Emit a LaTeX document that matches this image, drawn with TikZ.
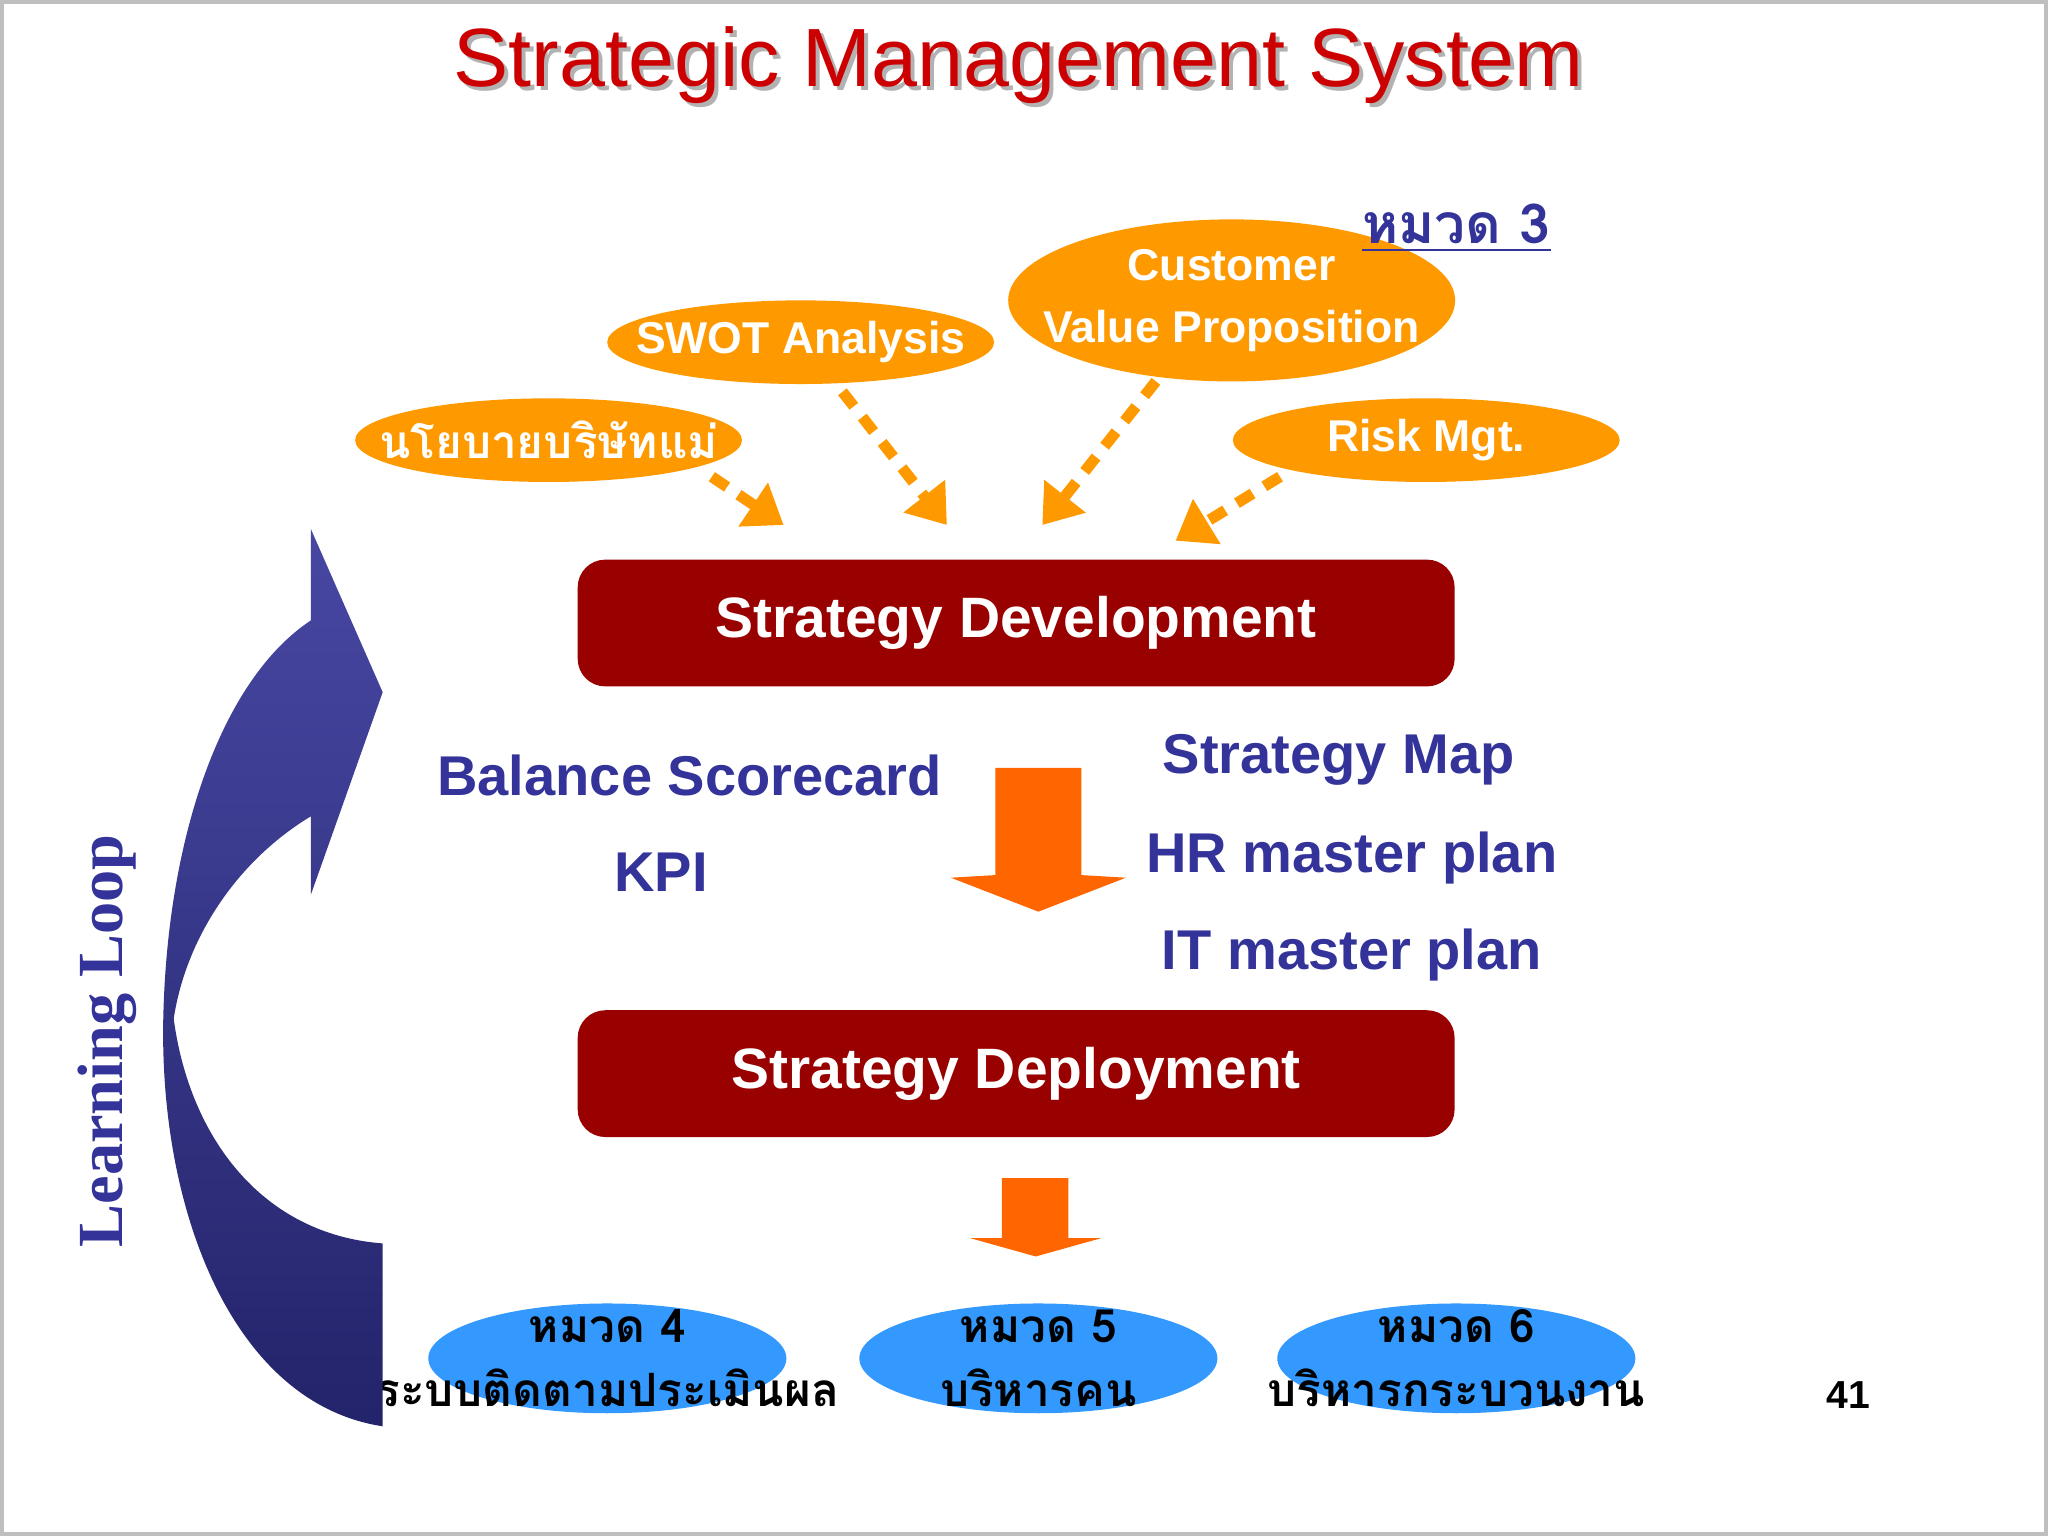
\documentclass[tikz,border=0pt]{standalone}
\usepackage{fontspec}
\setmainfont{Liberation Sans}
\newfontfamily\thaifont[Script=Thai]{Loma}
\newfontfamily\serifb{Liberation Serif}
\usetikzlibrary{arrows.meta,shadings,shapes.geometric}
\definecolor{ttlred}{HTML}{CC0000}
\definecolor{orng}{HTML}{FF9900}
\definecolor{darr}{HTML}{FF6600}
\definecolor{boxred}{HTML}{990000}
\definecolor{navy}{HTML}{333399}
\definecolor{lblue}{HTML}{3399FF}
\tikzset{
 oell/.style={ellipse, fill=orng, inner sep=0pt},
 otxt/.style={text=white, font=\bfseries\fontsize{9.7}{11}\selectfont, align=center},
 dotarr/.style={orng, line width=2.4pt, dash pattern=on 4pt off 3pt, -{Triangle[length=8pt,width=11pt]}},
 redbox/.style={fill=boxred, rounded corners=6pt, minimum width=6.71cm, minimum height=0.97cm, text=white, font=\bfseries\fontsize{12.4}{14}\selectfont},
 bluetxt/.style={text=navy, font=\bfseries\fontsize{12.2}{14}\selectfont},
 bell/.style={ellipse, fill=lblue, minimum width=2.74cm, minimum height=0.84cm, inner sep=0pt},
 btxt/.style={font=\thaifont\bfseries\fontsize{10}{12}\selectfont, text=black, align=center},
}
\begin{document}
\begin{tikzpicture}[x=0.01cm,y=-0.01cm]
\useasboundingbox (0,0) rectangle (1568,1176);
\fill[white] (0,0) rectangle (1568,1176);
\draw[gray!50, line width=1pt] (1,1) rectangle (1567,1175);
% title
\node[text=gray!60] at (783,53) {\fontsize{18}{21}\selectfont Strategic Management System};
\node (title) [text=ttlred] at (780,50) {\fontsize{18}{21}\selectfont Strategic Management System};
% ellipses
\node (pol) [oell, minimum width=2.96cm, minimum height=0.64cm] at (420,337) {};
\node[otxt, font=\thaifont\bfseries\fontsize{10}{12}\selectfont] at (420,337) {นโยบายบริษัทแม่};
\node (swot) [oell, minimum width=2.96cm, minimum height=0.64cm] at (613,262) {};
\node[otxt] at (613,262) {SWOT Analysis};
\node (cvp) [oell, minimum width=3.42cm, minimum height=1.24cm] at (943,230) {};
\node[otxt, font=\bfseries\fontsize{9.7}{13.5}\selectfont] at (943,230) {Customer\\Value Proposition};
\node (risk) [oell, minimum width=2.96cm, minimum height=0.64cm] at (1092,337) {};
\node[otxt] at (1092,337) {Risk Mgt.};
\node (m3) [text=navy, font=\thaifont\bfseries\fontsize{12}{13}\selectfont] at (1115,175) {\underline{หมวด 3}};
% dotted arrows
\coordinate (a1) at (600,402); \coordinate (a2) at (725,402);
\coordinate (a3) at (798,402); \coordinate (a4) at (900,414);
\draw[dotarr] (545,365) -- (a1);
\draw[dotarr] (645,300) -- (a2);
\draw[dotarr] (885,292) -- (a3);
\draw[dotarr] (980,365) -- (a4);
% boxes
\node (sd) [redbox] at (778,477) {Strategy Development};
\node (sdep) [redbox] at (778,822) {Strategy Deployment};
% texts
\node[bluetxt] at (528,594) {Balance Scorecard};
\node[bluetxt] at (506,668) {KPI};
\node[bluetxt] at (1025,582) {Strategy Map};
\node[bluetxt] at (1035,657) {HR master plan};
\node[bluetxt] at (1035,731) {IT master plan};
% big arrows
\fill[darr] (762,588) -- (828,588) -- (828,670) -- (862,672) -- (795,698) -- (728,672) -- (762,670) -- cycle;
\fill[darr] (767,902) -- (818,902) -- (818,948) -- (843,948) -- (793,962) -- (743,948) -- (767,948) -- cycle;
% bottom ellipses
\node (c4) [bell] at (465,1040) {};
\node (c5) [bell] at (795,1040) {};
\node (c6) [bell] at (1115,1040) {};
\node[btxt] at (465,1040) {หมวด 4\\[2pt]ระบบติดตามประเมินผล};
\node[btxt] at (795,1040) {หมวด 5\\[2pt]บริหารคน};
\node[btxt] at (1115,1040) {หมวด 6\\[2pt]บริหารกระบวนงาน};
\node[font=\bfseries\fontsize{8.5}{10}\selectfont] at (1415,1068) {41};
% learning loop arrow
\shade[top color=navy!90!white, bottom color=navy!70!black]
 (293,1092) .. controls (180,1075) and (122,930) .. (125,780)
 .. controls (128,640) and (170,520) .. (238,475) -- (238,405) -- (293,530) -- (238,685) -- (238,625)
 .. controls (180,660) and (142,720) .. (133,780)
 .. controls (145,870) and (200,945) .. (293,952) -- cycle;
\node[rotate=90, text=navy, font=\serifb\bfseries\fontsize{14}{16}\selectfont] at (82,797) {Learning Loop};
\end{tikzpicture}
\end{document}
